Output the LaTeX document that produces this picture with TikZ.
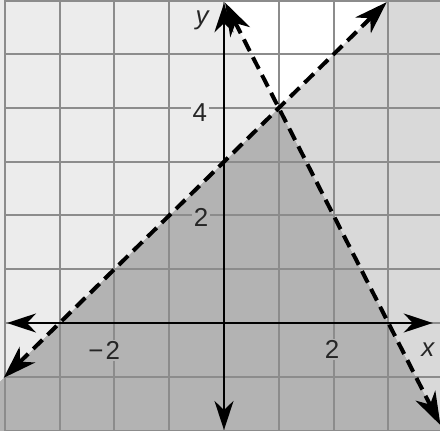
\documentclass[tikz,border=0pt]{standalone}
\usepackage{fontspec}
\setmainfont{Liberation Sans}
\usetikzlibrary{arrows.meta}
\definecolor{lightreg}{HTML}{ECECEC}
\definecolor{rightreg}{HTML}{D9D9D9}
\definecolor{darkreg}{HTML}{B3B3B3}
\definecolor{gridgray}{HTML}{8C8C8C}
\begin{document}
\begin{tikzpicture}[x=54.8bp,y=53.75bp,
  gridline/.style={draw=gridgray,line width=2bp},
  axis/.style={draw=black,line width=2.6bp,{Stealth[length=29bp,width=19bp,inset=9bp]}-{Stealth[length=29bp,width=19bp,inset=9bp]}},
  bline/.style={draw=black,line width=4bp,dash pattern=on 13bp off 7bp,{Stealth[length=33bp,width=22bp,inset=10bp]}-{Stealth[length=33bp,width=22bp,inset=10bp]}},
  lbl/.style={font=\fontsize{26}{26}\selectfont,inner sep=1.5bp,text=black!85}
]
\useasboundingbox (-4.0876,-2.0093) rectangle (3.9416,6.0093);
\begin{scope}
\clip (-4.0876,-2.0093) rectangle (3.9416,6.0093);
\fill[white] (-4.2,-2.2) rectangle (4.2,6.2);
\fill[darkreg] (-4.2,-2.2) -- (-4.2,-1.2) -- (1,4) -- (4.1,-2.2) -- cycle;
\fill[lightreg] (-4.2,-1.2) -- (-4.2,6.2) -- (-0.1,6.2) -- (1,4) -- cycle;
\fill[rightreg] (1,4) -- (3.2,6.2) -- (4.2,6.2) -- (4.2,-2.2) -- (4.1,-2.2) -- cycle;
\draw[gridline,xstep=54.8bp,ystep=53.75bp] (-4,-2) grid (4,6);
\end{scope}
% labels
\node[lbl,fill=lightreg] (l4) at (-0.44,3.91) {4};
\node[lbl,fill=darkreg] (l2y) at (-0.42,1.97) {2};
\node[lbl,fill=darkreg] (lm2) at (-2.03,-0.52) {\llap{−\kern2bp}2};
\node[lbl,fill=darkreg] (l2x) at (1.97,-0.5) {2};
\node[lbl] (lx) at (3.72,-0.5) {\itshape x};
\node[lbl] (ly) at (-0.4,5.64) {\itshape y};
% axes
\coordinate (xl) at (-3.96,0);
\coordinate (xr) at (3.81,0);
\coordinate (yb) at (0,-1.99);
\coordinate (yt) at (0,5.95);
\draw[axis] (xl) -- (xr);
\draw[axis] (yb) -- (yt);
% boundary lines
\coordinate (a1) at (-4.02,-1.02);
\coordinate (a2) at (2.97,5.97);
\coordinate (b1) at (0.02,5.96);
\coordinate (b2) at (3.95,-1.9);
\draw[bline] (a1) -- (a2);
\draw[bline] (b1) -- (b2);
\end{tikzpicture}
\end{document}
